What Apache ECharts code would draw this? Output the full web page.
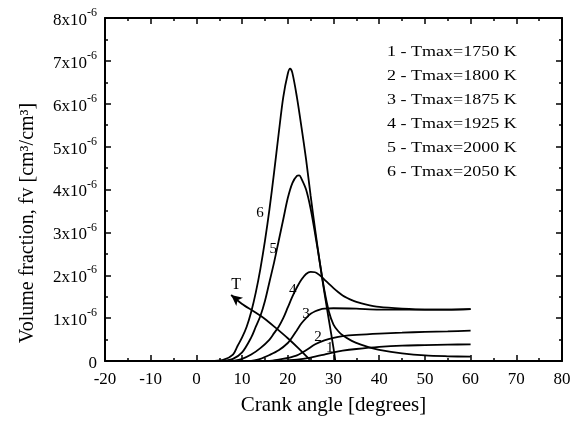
<!DOCTYPE html>
<html><head><meta charset="utf-8">
<script src="https://cdn.jsdelivr.net/npm/echarts/dist/echarts.min.js"></script>
<style>html,body{margin:0;padding:0;background:#fff}#c{width:577px;height:423px}</style>
</head><body><div id="c"></div>
<script>
// x: crank angle [degrees]; y: soot volume fraction in units of 1e-6 cm3/cm3
const c1X = [18, 22, 25, 28, 30, 32, 35, 40, 45, 50, 55, 60];
const c1Y = [0, 0.03, 0.08, 0.15, 0.2, 0.24, 0.28, 0.33, 0.36, 0.37, 0.38, 0.39];
const c2X = [16, 18, 20, 22, 24, 26, 28, 30, 32, 35, 40, 45, 50, 55, 60];
const c2Y = [0, 0.03, 0.07, 0.13, 0.25, 0.39, 0.48, 0.54, 0.58, 0.61, 0.64, 0.66, 0.68, 0.69, 0.71];
const c3X = [12, 14, 16, 18, 20, 21, 22, 23, 24, 25, 26, 27, 28, 30, 35, 40, 45, 50, 55, 60];
const c3Y = [0, 0.05, 0.14, 0.25, 0.42, 0.56, 0.72, 0.88, 1.0, 1.1, 1.16, 1.2, 1.22, 1.23, 1.22, 1.2, 1.2, 1.2, 1.2, 1.21];
const c4X = [8, 10, 12, 14, 16, 17, 18, 19, 20, 21, 22, 23, 24, 25, 26, 27, 28, 29, 30, 31, 32, 33, 34, 35, 37, 40, 45, 50, 55, 60];
const c4Y = [0, 0.05, 0.15, 0.3, 0.5, 0.65, 0.8, 1.0, 1.25, 1.5, 1.72, 1.9, 2.03, 2.08, 2.07, 2.0, 1.9, 1.8, 1.7, 1.61, 1.53, 1.47, 1.42, 1.38, 1.32, 1.26, 1.22, 1.2, 1.2, 1.21];
const c5X = [6, 8, 10, 12, 13, 14, 15, 16, 17, 18, 19, 20, 21, 22, 22.5, 23, 24, 25, 26, 27, 28, 29, 30, 31, 32, 34, 36, 38, 40, 45, 50, 55, 60];
const c5Y = [0, 0.05, 0.2, 0.55, 0.8, 1.05, 1.4, 1.85, 2.3, 2.8, 3.3, 3.8, 4.15, 4.32, 4.33, 4.25, 4.0, 3.55, 2.95, 2.3, 1.65, 1.15, 0.85, 0.7, 0.6, 0.47, 0.38, 0.31, 0.26, 0.18, 0.13, 0.11, 0.1];
const c6X = [4, 6, 8, 9, 10, 11, 12, 13, 14, 15, 16, 17, 18, 19, 20, 20.5, 21, 22, 23, 24, 25, 26, 27, 28, 29, 30, 30.4];
const c6Y = [0, 0.03, 0.15, 0.35, 0.55, 0.8, 1.15, 1.6, 2.15, 2.8, 3.55, 4.4, 5.3, 6.15, 6.7, 6.82, 6.72, 6.15, 5.45, 4.7, 3.85, 3.05, 2.3, 1.6, 0.95, 0.3, 0];
// temperature trend arrow "T"
const tX = [7.6, 10, 12.5, 15, 17.5, 20, 22.3, 24.8];
const tY = [1.54, 1.33, 1.16, 0.98, 0.76, 0.53, 0.3, 0.03];

const curveNames = ['1', '2', '3', '4', '5', '6'];
const legendLabels = ['1 - Tmax=1750 K', '2 - Tmax=1800 K', '3 - Tmax=1875 K', '4 - Tmax=1925 K', '5 - Tmax=2000 K', '6 - Tmax=2050 K'];
const xTicks = [-20, -10, 0, 10, 20, 30, 40, 50, 60, 70, 80];
const yTicks = [0, 1, 2, 3, 4, 5, 6, 7, 8];

const SERIF = '"Liberation Serif", "Times New Roman", serif';
const pairs = (xs, ys) => xs.map((x, i) => [x, ys[i]]);
const curves = [[c1X, c1Y], [c2X, c2Y], [c3X, c3Y], [c4X, c4Y], [c5X, c5Y], [c6X, c6Y]];
// label anchor for each curve number (data coords)
const labelAt = [[29.2, 0.3], [26.6, 0.55], [24.0, 1.1], [21.1, 1.65], [16.8, 2.6], [13.9, 3.44]];

const series = curves.map((c, i) => ({
  type: 'line', name: curveNames[i], data: pairs(c[0], c[1]),
  smooth: 0.3, symbol: 'none', lineStyle: {color: '#000', width: 1.8},
  markPoint: {
    symbol: 'circle', symbolSize: 1, itemStyle: {color: 'rgba(0,0,0,0)'},
    label: {show: true, position: 'inside', formatter: curveNames[i], color: '#000', fontSize: 15, fontFamily: SERIF},
    data: [{coord: labelAt[i]}]
  }
}));
const tData = pairs(tX, tY).map((p, i) => i === 0 ? {value: p, symbol: 'arrow', symbolSize: [8, 11], symbolRotate: 51, itemStyle: {color: '#000'}} : {value: p, symbol: 'none'});
series.push({
  type: 'line', name: 'T', data: tData, smooth: 0.3, showSymbol: true,
  lineStyle: {color: '#000', width: 1.8},
  markPoint: {
    symbol: 'circle', symbolSize: 1, itemStyle: {color: 'rgba(0,0,0,0)'},
    label: {show: true, position: 'inside', formatter: 'T', color: '#000', fontSize: 16, fontFamily: SERIF},
    data: [{coord: [8.7, 1.78]}]
  }
});

const axisLineStyle = {onZero: false, lineStyle: {color: '#000', width: 2}};
const tickStyle = {inside: true, length: 6, lineStyle: {color: '#000', width: 1.5}};
const minorStyle = {show: true, splitNumber: 2, length: 3, lineStyle: {color: '#000', width: 1.5}};

const chart = echarts.init(document.getElementById('c'), null, {renderer: 'canvas'});
chart.setOption({
  backgroundColor: '#fff',
  animation: false,
  grid: {left: 105, right: 15, top: 18, bottom: 62},
  xAxis: [{
    type: 'value', min: xTicks[0], max: xTicks[xTicks.length - 1], interval: 10, position: 'bottom',
    axisLine: axisLineStyle, axisTick: tickStyle, minorTick: minorStyle, splitLine: {show: false},
    axisLabel: {margin: 10, color: '#000', fontSize: 17, fontFamily: SERIF},
    name: 'Crank angle [degrees]', nameLocation: 'middle', nameGap: 34,
    nameTextStyle: {color: '#000', fontSize: 21, fontFamily: SERIF}
  }, {
    type: 'value', min: xTicks[0], max: xTicks[xTicks.length - 1], interval: 10, position: 'top',
    axisLine: axisLineStyle, axisTick: tickStyle, minorTick: minorStyle, splitLine: {show: false},
    axisLabel: {show: false}
  }],
  yAxis: [{
    type: 'value', min: yTicks[0], max: yTicks[yTicks.length - 1], interval: 1, position: 'left',
    axisLine: axisLineStyle, axisTick: tickStyle, minorTick: minorStyle, splitLine: {show: false},
    axisLabel: {
      margin: 8, color: '#000',
      formatter: v => v === 0 ? '{a|0}' : '{a|' + v + 'x10}{b|-6}',
      rich: {
        a: {fontSize: 17, fontFamily: SERIF, color: '#000', lineHeight: 22, verticalAlign: 'bottom'},
        b: {fontSize: 12, fontFamily: SERIF, color: '#000', lineHeight: 22, verticalAlign: 'top'}
      }
    }
  }, {
    type: 'value', min: yTicks[0], max: yTicks[yTicks.length - 1], interval: 1, position: 'right',
    axisLine: axisLineStyle, axisTick: tickStyle, minorTick: minorStyle, splitLine: {show: false},
    axisLabel: {show: false}
  }],
  graphic: legendLabels.map((t, i) => ({
    type: 'text', x: 387, y: 52 + i * 24, scaleX: 1.2, originX: 0,
    style: {text: t, font: '15px ' + SERIF, fill: '#000', verticalAlign: 'middle', textVerticalAlign: 'middle'}
  })).concat([{
    type: 'text', x: 28, y: 223, rotation: Math.PI / 2,
    style: {text: 'Volume fraction, fv [cm³/cm³]', font: '20px ' + SERIF, fill: '#000', align: 'center', textAlign: 'center', verticalAlign: 'middle', textVerticalAlign: 'middle'}
  }]),
  series: series
});
</script></body></html>
